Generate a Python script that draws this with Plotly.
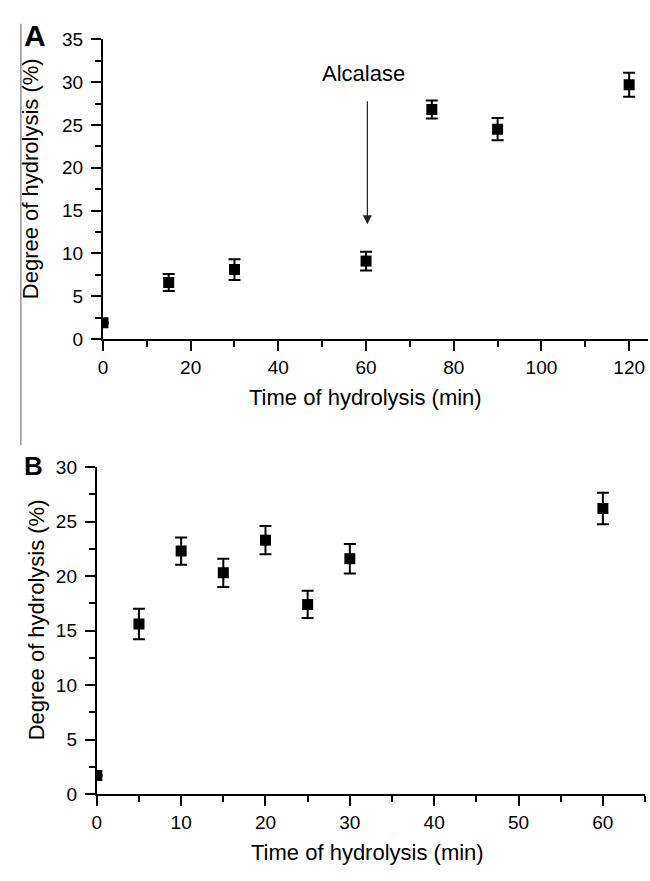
import plotly.graph_objects as go

# Panel A: two-stage hydrolysis, Alcalase added at 60 min
time_a = [0, 15, 30, 60, 75, 90, 120]
dh_a = [1.9, 6.6, 8.1, 9.1, 26.8, 24.5, 29.7]
err_a = [0, 1.0, 1.2, 1.1, 1.05, 1.3, 1.4]

# Panel B: single-stage hydrolysis
time_b = [0, 5, 10, 15, 20, 25, 30, 60]
dh_b = [1.7, 15.6, 22.3, 20.3, 23.3, 17.4, 21.6, 26.2]
err_b = [0, 1.4, 1.25, 1.3, 1.3, 1.25, 1.35, 1.45]

xticks_a = [0, 20, 40, 60, 80, 100, 120]
yticks_a = [0, 5, 10, 15, 20, 25, 30, 35]
xticks_b = [0, 10, 20, 30, 40, 50, 60]
yticks_b = [0, 5, 10, 15, 20, 25, 30]

W, H = 650, 881
FONT = "Liberation Sans, Arial, sans-serif"


def px(x):
    return x / W


def py(y):
    return 1 - y / H


marker = dict(symbol="square", size=11, color="black")


def errbar(vals):
    return dict(type="data", array=vals, visible=True, color="black",
                thickness=2, width=6)


fig = go.Figure()
fig.add_trace(go.Scatter(x=time_a, y=dh_a, mode="markers", marker=marker,
                         error_y=errbar(err_a), xaxis="x", yaxis="y",
                         cliponaxis=True, showlegend=False))
fig.add_trace(go.Scatter(x=time_b, y=dh_b, mode="markers", marker=marker,
                         error_y=errbar(err_b), xaxis="x2", yaxis="y2",
                         cliponaxis=True, showlegend=False))

axis_common = dict(
    showline=True, linecolor="black", linewidth=2,
    ticks="outside", ticklen=10, tickwidth=2, tickcolor="black",
    showgrid=False, zeroline=False, mirror=False,
    tickfont=dict(family=FONT, size=19, color="black"),
)
minor_common = dict(ticks="outside", ticklen=6, tickwidth=2,
                    tickcolor="black", showgrid=False)

fig.update_layout(
    width=W, height=H,
    margin=dict(l=0, r=0, t=0, b=0),
    paper_bgcolor="white", plot_bgcolor="white",
    font=dict(family=FONT, color="black"),
    xaxis=dict(domain=[px(98.7), px(648)], range=[0, 124.3],
               tickvals=xticks_a, anchor="y", ticklabelstandoff=0,
               minor=dict(dtick=10, **minor_common), **axis_common),
    yaxis=dict(domain=[py(337), py(30)], range=[0, 35],
               tickvals=yticks_a, anchor="x", ticklabelstandoff=4,
               minor=dict(dtick=2.5, **minor_common), **axis_common),
    xaxis2=dict(domain=[px(92.5), px(645)], range=[0, 65],
                tickvals=xticks_b, anchor="y2", ticklabelstandoff=0,
                minor=dict(dtick=5, **minor_common), **axis_common),
    yaxis2=dict(domain=[py(803.3), py(468.3)], range=[0, 30],
                tickvals=yticks_b, anchor="x2", ticklabelstandoff=4,
                minor=dict(dtick=2.5, **minor_common), **axis_common),
)

title_font = dict(family=FONT, size=22, color="black")
annotations = [
    # axis titles
    dict(text="Time of hydrolysis (min)", x=px(363), y=py(397),
         xref="paper", yref="paper", showarrow=False, font=title_font,
         xanchor="center", yanchor="middle"),
    dict(text="Degree of hydrolysis (%)", x=px(26), y=py(172.5),
         xref="paper", yref="paper", showarrow=False, font=title_font,
         textangle=-90, xanchor="center", yanchor="middle"),
    dict(text="Time of hydrolysis (min)", x=px(365), y=py(863),
         xref="paper", yref="paper", showarrow=False, font=title_font,
         xanchor="center", yanchor="middle"),
    dict(text="Degree of hydrolysis (%)", x=px(31.5), y=py(625),
         xref="paper", yref="paper", showarrow=False, font=title_font,
         textangle=-90, xanchor="center", yanchor="middle"),
    # panel letters
    dict(text="<b>A</b>", x=px(30), y=py(26), xref="paper", yref="paper",
         showarrow=False, font=dict(family=FONT, size=30, color="black"),
         xanchor="center", yanchor="middle"),
    dict(text="<b>B</b>", x=px(28.5), y=py(467.5), xref="paper", yref="paper",
         showarrow=False, font=dict(family=FONT, size=26, color="black"),
         xanchor="center", yanchor="middle"),
    # enzyme addition marker
    dict(text="Alcalase", x=59.4, y=31.0, xref="x", yref="y",
         showarrow=False, font=dict(family=FONT, size=22, color="black"),
         xanchor="center", yanchor="middle"),
    dict(text="", x=60.3, y=13.4, xref="x", yref="y",
         ax=60.3, ay=27.95, axref="x", ayref="y",
         showarrow=True, arrowhead=2, arrowsize=1.5, arrowwidth=1.2,
         arrowcolor="#222222"),
]
fig.update_layout(annotations=annotations)

# thin rule along the left edge of panel A
fig.add_shape(type="line", xref="paper", yref="paper",
              x0=px(16), x1=px(16), y0=py(14), y1=py(446),
              line=dict(color="#777777", width=1.2))

fig.write_html("out.html")
